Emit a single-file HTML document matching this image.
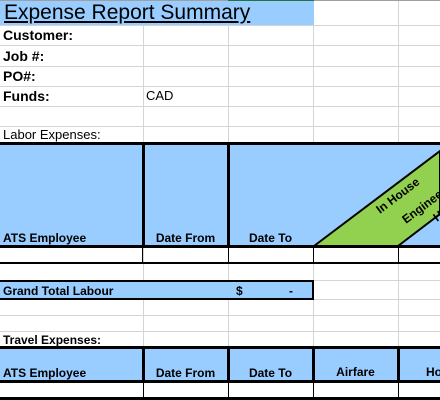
<!DOCTYPE html>
<html><head><meta charset="utf-8"><style>
body{margin:0;width:440px;height:400px;overflow:hidden;background:#fff;position:relative;font-family:"Liberation Sans",Arial,sans-serif;}
div{position:absolute;box-sizing:border-box;}
.g{background:#d4d4d4;}
.t{font-size:14px;font-weight:bold;color:#000;white-space:nowrap;line-height:16px;}
.h{font-size:12px;font-weight:bold;white-space:nowrap;line-height:14px;}
.b{background:#000;}
.fill{background:#99ccff;}
</style></head><body>
<div class="g" style="left:143px;top:0;width:1px;height:400px"></div>
<div class="g" style="left:228px;top:0;width:1px;height:400px"></div>
<div class="g" style="left:313px;top:0;width:1px;height:400px"></div>
<div class="g" style="left:398px;top:0;width:1px;height:400px"></div>
<div class="g" style="left:0;top:25px;width:440px;height:1px"></div>
<div class="g" style="left:0;top:45px;width:440px;height:1px"></div>
<div class="g" style="left:0;top:66px;width:440px;height:1px"></div>
<div class="g" style="left:0;top:86px;width:440px;height:1px"></div>
<div class="g" style="left:0;top:106px;width:440px;height:1px"></div>
<div class="g" style="left:0;top:126px;width:440px;height:1px"></div>
<div class="g" style="left:0;top:263px;width:440px;height:1px"></div>
<div class="g" style="left:0;top:280px;width:440px;height:1px"></div>
<div class="g" style="left:0;top:299px;width:440px;height:1px"></div>
<div class="g" style="left:0;top:315px;width:440px;height:1px"></div>
<div class="g" style="left:0;top:331px;width:440px;height:1px"></div>
<div style="left:0;top:0;width:440px;height:1px;background:#a0a0a0"></div>
<div style="left:228px;top:0;width:86px;height:1px;background:#217346"></div>

<div class="fill" style="left:0;top:1px;width:314px;height:24px"></div>
<div style="left:4px;top:0px;font-size:21px;line-height:26px;text-decoration:underline;white-space:nowrap">Expense Report Summary</div>

<div class="t" style="left:3px;top:27px">Customer:</div>
<div class="t" style="left:3px;top:48px">Job #:</div>
<div class="t" style="left:3px;top:68px">PO#:</div>
<div class="t" style="left:3px;top:88px">Funds:</div>
<div style="left:146px;top:89px;font-size:13px;line-height:14px">CAD</div>
<div style="left:3px;top:127px;font-size:13px;line-height:15px;white-space:nowrap">Labor Expenses:</div>

<div class="fill" style="left:0;top:143px;width:440px;height:103px"></div>
<svg style="position:absolute;left:0;top:0" width="440" height="400">
<polygon points="314,246 440,151 440,214 398,246" fill="#92d050" stroke="#000" stroke-width="2"/>
<text x="0" y="0" transform="translate(380,214) rotate(-37)" font-family="Liberation Sans,Arial,sans-serif" font-size="12" font-weight="bold">In House</text>
<text x="0" y="0" transform="translate(406,224) rotate(-37)" font-family="Liberation Sans,Arial,sans-serif" font-size="12" font-weight="bold">Engineering</text>
<text x="0" y="0" transform="translate(437,222) rotate(-37)" font-family="Liberation Sans,Arial,sans-serif" font-size="12" font-weight="bold">Hours</text>
</svg>
<div class="b" style="left:0;top:142px;width:440px;height:3px"></div>
<div class="b" style="left:0;top:245px;width:440px;height:3px"></div>
<div class="b" style="left:142px;top:142px;width:3px;height:106px"></div>
<div class="b" style="left:227px;top:142px;width:3px;height:106px"></div>
<div class="h" style="left:3px;top:231px">ATS Employee</div>
<div class="h" style="left:143px;width:85px;text-align:center;top:231px">Date From</div>
<div class="h" style="left:228px;width:85px;text-align:center;top:231px">Date To</div>
<div class="b" style="left:142px;top:246px;width:1px;height:17px"></div>
<div class="b" style="left:228px;top:246px;width:1px;height:17px"></div>
<div class="b" style="left:313px;top:246px;width:1px;height:17px"></div>
<div class="b" style="left:398px;top:246px;width:1px;height:17px"></div>
<div class="b" style="left:0;top:262px;width:440px;height:2px"></div>

<div class="fill" style="left:0;top:280px;width:314px;height:20px;border:2px solid #000;border-left:none"></div>
<div class="h" style="left:3px;top:284px">Grand Total Labour</div>
<div class="h" style="left:236px;top:284px">$</div>
<div class="h" style="left:289px;top:284px">-</div>

<div class="h" style="left:3px;top:333px">Travel Expenses:</div>
<div class="fill" style="left:0;top:347px;width:440px;height:34px"></div>
<div class="b" style="left:0;top:346px;width:440px;height:3px"></div>
<div class="b" style="left:0;top:380px;width:440px;height:3px"></div>
<div class="b" style="left:0;top:397px;width:440px;height:3px"></div>
<div class="b" style="left:142px;top:346px;width:3px;height:36px"></div>
<div class="b" style="left:227px;top:346px;width:3px;height:36px"></div>
<div class="b" style="left:312px;top:346px;width:3px;height:36px"></div>
<div class="b" style="left:397px;top:346px;width:3px;height:36px"></div>
<div class="b" style="left:143px;top:381px;width:1px;height:19px"></div>
<div class="b" style="left:228px;top:381px;width:1px;height:19px"></div>
<div class="b" style="left:313px;top:381px;width:1px;height:19px"></div>
<div class="b" style="left:398px;top:381px;width:1px;height:19px"></div>
<div class="h" style="left:3px;top:366px">ATS Employee</div>
<div class="h" style="left:143px;width:85px;text-align:center;top:366px">Date From</div>
<div class="h" style="left:228px;width:85px;text-align:center;top:366px">Date To</div>
<div class="h" style="left:313px;width:85px;text-align:center;top:365px">Airfare</div>
<div class="h" style="left:426px;top:365px">Ho</div>
</body></html>
